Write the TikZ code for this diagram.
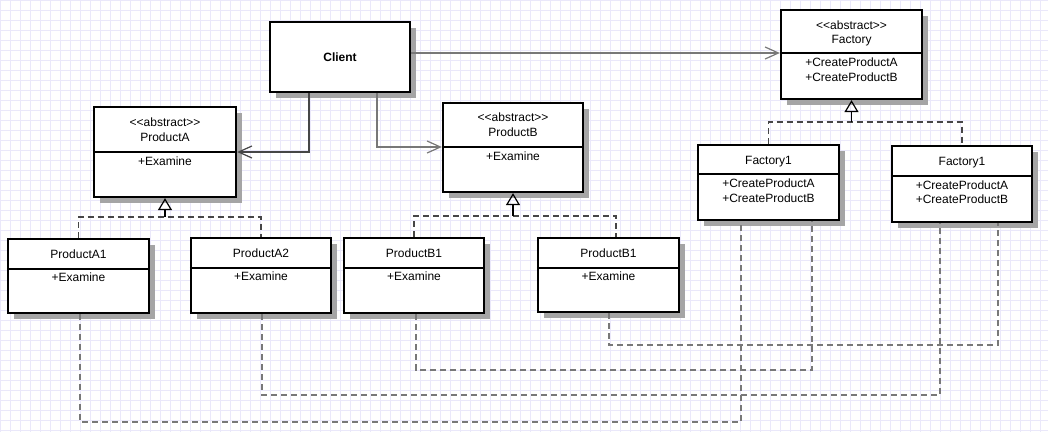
\documentclass[tikz,border=0pt]{standalone}
\usepackage{fontspec}
\setmainfont{Liberation Sans}
\usetikzlibrary{arrows.meta,fit}
\definecolor{gridc}{RGB}{234,232,250}
\definecolor{lineg}{RGB}{120,120,120}
\definecolor{lined}{RGB}{70,70,70}
\definecolor{shadowc}{RGB}{165,165,165}
\newcommand\clsbox[5]{%
  \path[fill=shadowc] (#2+6,#3+6) rectangle (#4+6,#5+6);
  \node[cls, fit={(#2,#3) (#4,#5)}] (#1) {};}
\newcommand\stereo{<{}<abstract>{}>}
\begin{document}
\begin{tikzpicture}[x=0.75pt,y=-0.75pt,
  cls/.style={draw=black, line width=1.7pt, fill=white, inner sep=0pt},
  divider/.style={draw=black, line width=1.7pt},
  txt/.style={font=\fontsize{9}{11}\selectfont, inner sep=0pt, text height=6.5pt, text depth=0pt},
  btxt/.style={txt, font=\fontsize{9}{11}\selectfont\bfseries},
  assoc/.style={draw=lineg, line width=1.1pt, -{Straight Barb[length=10pt,width=9pt,line width=0.9pt]}},
  assocd/.style={draw=lined, line width=0.9pt, -{Straight Barb[length=10pt,width=9pt,line width=0.9pt]}},
  realize/.style={draw=lined, line width=1pt, dash pattern=on 4.5pt off 3pt},
  usesline/.style={draw=lineg, line width=1.1pt, dash pattern=on 4.5pt off 3pt},
  inh/.style={draw=black, line width=0.9pt, -{Triangle[open,length=9pt,width=10.5pt,line width=0.9pt]}}
]
\useasboundingbox (0,0) rectangle (1048,432);
\fill[white] (0,0) rectangle (1048,432);
\draw[gridc, line width=0.75pt, step=7.5pt] (0,0) grid (1048,432);

% Client
\clsbox{cl}{270}{22}{410}{92}
\node[btxt] (clt) at (340,57) {Client};

% Factory
\clsbox{fa}{781}{10}{922}{99}
\draw[divider] (fa.west |- 0,53) -- (fa.east |- 0,53);
\node[txt] (fa1) at (851.5,25) {\stereo};
\node[txt] (fa2) at (851.5,39) {Factory};
\node[txt] (fa3) at (851.5,62) {+CreateProductA};
\node[txt] (fa4) at (851.5,77) {+CreateProductB};

% ProductA
\clsbox{pa}{94}{107}{236}{197}
\draw[divider] (pa.west |- 0,152) -- (pa.east |- 0,152);
\node[txt] (pa1t) at (165,122) {\stereo};
\node[txt] (pa2t) at (165,137) {ProductA};
\node[txt] (pa3t) at (165,161) {+Examine};

% ProductB
\clsbox{pb}{443}{103}{583}{192}
\draw[divider] (pb.west |- 0,147) -- (pb.east |- 0,147);
\node[txt] (pb1t) at (513,117) {\stereo};
\node[txt] (pb2t) at (513,132) {ProductB};
\node[txt] (pb3t) at (513,156) {+Examine};

% Factory1 (left)
\clsbox{f1}{698}{145}{839}{220}
\draw[divider] (f1.west |- 0,174) -- (f1.east |- 0,174);
\node[txt] (f1a) at (768.5,160) {Factory1};
\node[txt] (f1b) at (768.5,183) {+CreateProductA};
\node[txt] (f1c) at (768.5,198) {+CreateProductB};

% Factory1 (right)
\clsbox{f2}{892}{146}{1032}{222}
\draw[divider] (f2.west |- 0,176) -- (f2.east |- 0,176);
\node[txt] (f2a) at (962,161) {Factory1};
\node[txt] (f2b) at (962,185) {+CreateProductA};
\node[txt] (f2c) at (962,199) {+CreateProductB};

% ProductA1
\clsbox{pa1}{8}{239}{149}{313}
\draw[divider] (pa1.west |- 0,269) -- (pa1.east |- 0,269);
\node[txt] (pa1a) at (78.5,254) {ProductA1};
\node[txt] (pa1b) at (78.5,277) {+Examine};

% ProductA2
\clsbox{pa2}{191}{238}{331}{313}
\draw[divider] (pa2.west |- 0,268) -- (pa2.east |- 0,268);
\node[txt] (pa2a) at (261,253) {ProductA2};
\node[txt] (pa2b) at (261,276) {+Examine};

% ProductB1
\clsbox{pb1}{344}{238}{484}{313}
\draw[divider] (pb1.west |- 0,268) -- (pb1.east |- 0,268);
\node[txt] (pb1a) at (414,253) {ProductB1};
\node[txt] (pb1b) at (414,276) {+Examine};

% ProductB1 (second)
\clsbox{pb2}{538}{238}{679}{312}
\draw[divider] (pb2.west |- 0,268) -- (pb2.east |- 0,268);
\node[txt] (pb2a) at (608.5,253) {ProductB1};
\node[txt] (pb2b) at (608.5,276) {+Examine};

% associations from Client
\draw[assoc] (cl.east |- 0,53) -- (fa.west |- 0,53);
\draw[assocd] (309,0 |- cl.south) |- (pa.east |- 0,152);
\draw[assoc] (377,0 |- cl.south) |- (pb.west |- 0,147);

% inheritance
\coordinate (jA) at (165,217);
\coordinate (jB) at (513,216);
\coordinate (jF) at (851.5,122);
\draw[realize] (pa1.north) |- (jA) -| (pa2.north);
\draw[inh] (jA) -- (pa.south);
\draw[realize] (pb1.north) |- (jB) -| (616,0 |- pb2.north);
\draw[inh] (jB) -- (pb.south);
\draw[realize] (f1.north) |- (jF) -| (f2.north);
\draw[inh] (jF) -- (fa.south);

% dependencies at the bottom
\draw[usesline] (80,0 |- pa1.south) -- (80,422) -| (741,0 |- f1.south);
\draw[usesline] (262,0 |- pa2.south) -- (262,395) -| (940,0 |- f2.south);
\draw[usesline] (416,0 |- pb1.south) -- (416,370) -| (812,0 |- f1.south);
\draw[usesline] (609,0 |- pb2.south) -- (609,345) -| (998,0 |- f2.south);
\end{tikzpicture}
\end{document}
